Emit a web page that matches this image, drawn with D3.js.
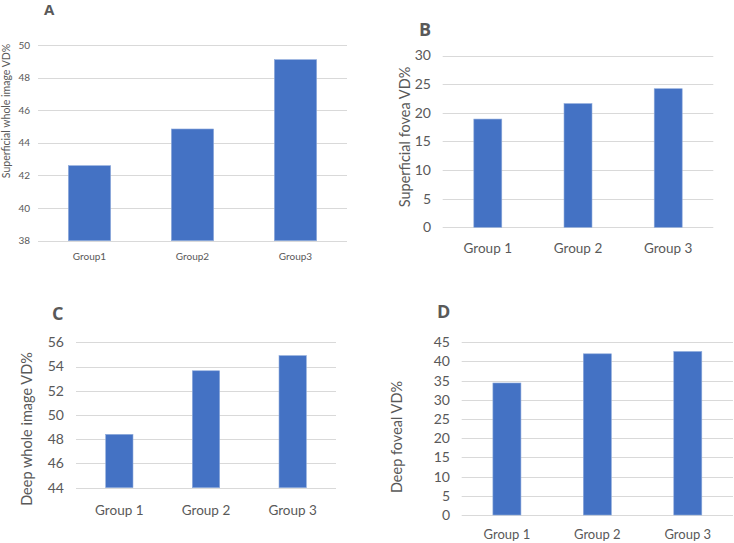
<!DOCTYPE html>
<meta charset="utf-8">
<html>
<head>
<style>
    body { margin: 0; background: #fff; }
    svg { display: block; font-family: Lato, "Open Sans", sans-serif; }
    .domain { display: none; }
</style>
<script src="https://d3js.org/d3.v7.min.js"></script>
</head>
<body>
<svg width="734" height="543"></svg>
<script>

// categories (panel A uses no space in names)
var groupsA = ["Group1", "Group2", "Group3"];
var groups  = ["Group 1", "Group 2", "Group 3"];

// values
var supWhole  = [42.6, 44.85, 49.1];   // A
var supFovea  = [18.9, 21.6, 24.2];    // B
var deepWhole = [48.4, 53.65, 54.9];   // C
var deepFovea = [34.4, 42.0, 42.6];    // D

// axis ranges / ticks
var ticksA = [38, 40, 42, 44, 46, 48, 50];
var ticksB = [0, 5, 10, 15, 20, 25, 30];
var ticksC = [44, 46, 48, 50, 52, 54, 56];
var ticksD = [0, 5, 10, 15, 20, 25, 30, 35, 40, 45];

var svg = d3.select("svg");
var textColor = "#595959",
    gridColor = "#d9d9d9",
    barColor  = "#4472c4";

// one panel: p holds layout (pixels) plus its data
function panel(p) {
    var g = svg.append("g");

    var x = d3.scaleBand()
        .domain(p.cats)
        .range([p.x0, p.x1])
        .paddingInner(p.pad)
        .paddingOuter(p.pad / 2);

    var y = d3.scaleLinear()
        .domain([p.ticks[0], p.ticks[p.ticks.length - 1]])
        .range([p.yb, p.yt]);

    // gridlines
    g.selectAll(".grid")
        .data(p.ticks)
        .enter().append("line")
        .attr("x1", p.x0).attr("x2", p.x1)
        .attr("y1", function(d) { return Math.round(y(d)) + 0.5; })
        .attr("y2", function(d) { return Math.round(y(d)) + 0.5; })
        .attr("stroke", gridColor)
        .attr("stroke-width", 1);

    // tick labels
    g.selectAll(".tick-label")
        .data(p.ticks)
        .enter().append("text")
        .attr("x", p.tx)
        .attr("y", function(d) { return y(d); })
        .attr("dy", "0.35em")
        .attr("text-anchor", "end")
        .attr("font-size", p.fs)
        .attr("fill", textColor)
        .text(function(d) { return d; });

    // bars
    g.selectAll(".bar")
        .data(p.vals)
        .enter().append("rect")
        .attr("x", function(d, i) { return x(p.cats[i]); })
        .attr("width", x.bandwidth())
        .attr("y", function(d) { return y(d); })
        .attr("height", function(d) { return y(p.ticks[0]) - y(d); })
        .attr("fill", barColor)
        .attr("stroke", "#8eaadb")
        .attr("stroke-width", 0.6);

    // category labels
    g.selectAll(".cat")
        .data(p.cats)
        .enter().append("text")
        .attr("x", function(d) { return x(d) + x.bandwidth() / 2; })
        .attr("y", p.cy)
        .attr("dy", "0.35em")
        .attr("text-anchor", "middle")
        .attr("font-size", p.cfs)
        .attr("fill", textColor)
        .text(function(d) { return d; });

    // y axis title
    g.append("text")
        .attr("transform", "translate(" + p.lx + "," + p.ly + ") rotate(-90)")
        .attr("dy", "0.35em")
        .attr("text-anchor", "middle")
        .attr("font-size", p.lfs)
        .attr("fill", textColor)
        .text(p.label);

    // panel letter
    g.append("text")
        .attr("x", p.px).attr("y", p.py)
        .attr("font-size", p.pfs)
        .attr("font-weight", "bold")
        .attr("font-family", "'Open Sans', sans-serif")
        .attr("fill", textColor)
        .text(p.letter);
}

panel({cats: groupsA, vals: supWhole, ticks: ticksA, label: "Superficial whole image VD%", letter: "A",
       x0: 38, x1: 347, yt: 45, yb: 240.7, pad: 0.59, tx: 30, fs: 10, cy: 256, cfs: 10,
       lx: 6, ly: 111, lfs: 10.5, px: 44, py: 15, pfs: 15});

panel({cats: groups, vals: supFovea, ticks: ticksB, label: "Superficial fovea VD%", letter: "B",
       x0: 442.7, x1: 713.3, yt: 55.5, yb: 227.3, pad: 0.69, tx: 431, fs: 14, cy: 248, cfs: 13.5,
       lx: 405, ly: 137, lfs: 14.5, px: 419, py: 36, pfs: 18});

panel({cats: groups, vals: deepWhole, ticks: ticksC, label: "Deep whole image VD%", letter: "C",
       x0: 76, x1: 336, yt: 342.3, yb: 487.7, pad: 0.685, tx: 64, fs: 14, cy: 510, cfs: 13.5,
       lx: 27, ly: 429, lfs: 14.5, px: 52, py: 320, pfs: 18});

panel({cats: groups, vals: deepFovea, ticks: ticksD, label: "Deep foveal VD%", letter: "D",
       x0: 461.7, x1: 733, yt: 342.3, yb: 515, pad: 0.69, tx: 450, fs: 14, cy: 534, cfs: 13,
       lx: 397, ly: 437, lfs: 14.5, px: 437, py: 318, pfs: 18});

</script>
</body>
</html>
